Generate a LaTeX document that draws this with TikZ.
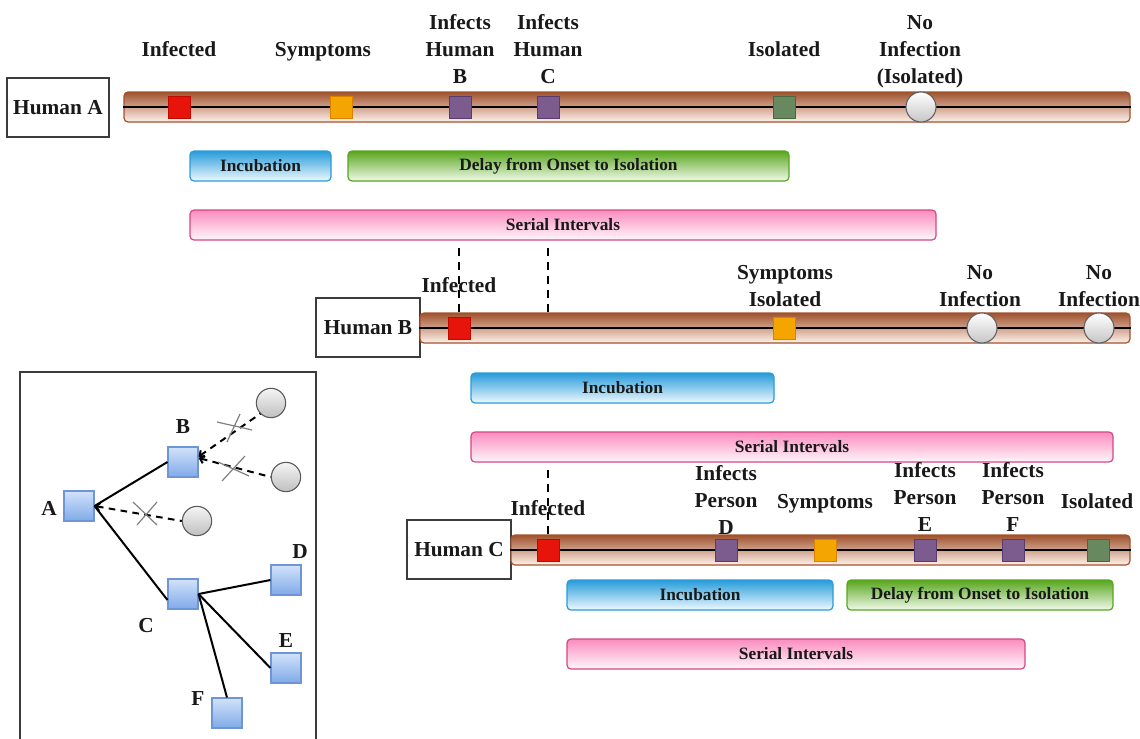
\documentclass[tikz,border=0pt]{standalone}
\usepackage{fontspec}
\setmainfont{Liberation Serif}
\usetikzlibrary{arrows.meta}

% palette
\definecolor{barbrown}{RGB}{160,82,45}
\definecolor{barlight}{RGB}{255,242,236}
\definecolor{evred}{RGB}{230,20,10}
\definecolor{evredd}{RGB}{190,10,0}
\definecolor{evorange}{RGB}{245,165,0}
\definecolor{evoranged}{RGB}{215,130,0}
\definecolor{evpurple}{RGB}{124,92,142}
\definecolor{evpurpled}{RGB}{88,60,110}
\definecolor{evgreen}{RGB}{104,136,96}
\definecolor{evgreend}{RGB}{72,104,64}
\definecolor{incb}{RGB}{40,156,218}
\definecolor{incl}{RGB}{238,249,255}
\definecolor{dlyg}{RGB}{88,166,30}
\definecolor{dlyl}{RGB}{242,250,236}
\definecolor{serp}{RGB}{214,70,130}
\definecolor{sertop}{RGB}{250,140,190}
\definecolor{serl}{RGB}{255,246,250}
\definecolor{tsqtop}{RGB}{210,226,250}
\definecolor{tsqbot}{RGB}{128,170,232}
\definecolor{tsqd}{RGB}{110,150,215}
\definecolor{boxgray}{RGB}{60,60,60}
\definecolor{txt}{RGB}{25,25,25}

\begin{document}
\begin{tikzpicture}[x=0.75pt,y=-0.75pt,
  humanbox/.style={draw=boxgray, line width=1.1pt, fill=white, inner sep=0,
    minimum height=44.25pt, text=txt, font=\fontsize{16}{20}\selectfont\bfseries},
  timeline/.style={draw=barbrown, line width=0.9pt, rounded corners=3pt,
    top color=barbrown, bottom color=barlight, minimum height=22.5pt, inner sep=0},
  axisline/.style={line width=1.5pt, black},
  evsq/.style={minimum size=16.5pt, inner sep=0, line width=0.7pt},
  redev/.style={evsq, fill=evred, draw=evredd},
  orangeev/.style={evsq, fill=evorange, draw=evoranged},
  purpleev/.style={evsq, fill=evpurple, draw=evpurpled},
  greenev/.style={evsq, fill=evgreen, draw=evgreend},
  noinf/.style={circle, minimum size=22.5pt, inner sep=0, draw=gray!75!black,
    line width=0.8pt, top color=white, bottom color=gray!45},
  spanbar/.style={rounded corners=3pt, minimum height=22.5pt, inner sep=0,
    line width=0.9pt, text=txt, font=\fontsize{13}{15}\selectfont\bfseries},
  incub/.style={spanbar, draw=incb, top color=incb, bottom color=incl},
  delay/.style={spanbar, draw=dlyg, top color=dlyg, bottom color=dlyl},
  serial/.style={spanbar, draw=serp, top color=sertop, bottom color=serl},
  evlabel/.style={font=\fontsize{16}{20}\selectfont\bfseries, text=txt,
    align=center, anchor=base, inner sep=0},
  vdash/.style={line width=1.5pt, dash pattern=on 6pt off 4.5pt},
  tsq/.style={minimum size=22.5pt, inner sep=0, draw=tsqd, line width=0.8pt,
    top color=tsqtop, bottom color=tsqbot},
  tcirc/.style={circle, minimum size=22pt, inner sep=0, draw=gray!70!black,
    line width=0.8pt, top color=white!92!gray, bottom color=gray!50},
  tlink/.style={line width=1.5pt, black},
  tblocked/.style={line width=1.5pt, black, dash pattern=on 5pt off 4pt,
    >={Straight Barb[length=3pt,width=6pt]}, <-},
  xmark/.style={gray, line width=0.9pt},
  tletter/.style={font=\fontsize{16}{20}\selectfont\bfseries, text=txt, inner sep=0}
]
\useasboundingbox (0,0) rectangle (1140,739);

% ---------------- Human A ----------------
\node[humanbox, minimum width=76.5pt] (hA) at (58,107.5) {Human A};
\node[timeline, minimum width=754.5pt] (tlA) at (627,107) {};
\draw[axisline] (tlA.west) -- (tlA.east);
\node[redev]    (aInf) at (179,107) {};
\node[orangeev] (aSym) at (341,107) {};
\node[purpleev] (aIB)  at (460,107) {};
\node[purpleev] (aIC)  at (548,107) {};
\node[greenev]  (aIso) at (784,107) {};
\node[noinf]    (aNo)  at (921,107) {};

% labels: the anchor sits on the baseline of the last line
\node[evlabel] (laInf) at (179,56) {Infected};
\node[evlabel] (laSym) at (323,56) {Symptoms};
\node[evlabel] (laIB)  at (460,83) {Infects\\Human\\B};
\node[evlabel] (laIC)  at (548,83) {Infects\\Human\\C};
\node[evlabel] (laIso) at (784,56) {Isolated};
\node[evlabel] (laNo)  at (920,83) {No\\Infection\\(Isolated)};

\node[incub, minimum width=105.75pt] (aInc) at (260.5,166) {Incubation};
\node[delay, minimum width=330.75pt] (aDly) at (568.5,166) {Delay from Onset to Isolation};
\node[serial, minimum width=559.5pt] (aSer) at (563,225) {Serial Intervals};

% ---------------- Human B ----------------
\node[humanbox, minimum width=78pt] (hB) at (368,327.5) {Human B};
\node[timeline, minimum width=532.5pt] (tlB) at (775,328) {};
\draw[axisline] (tlB.west) -- (tlB.east);
\node[redev]    (bInf) at (459,328) {};
\node[orangeev] (bSym) at (784,328) {};
\node[noinf]    (bNo1) at (982,328) {};
\node[noinf]    (bNo2) at (1099,328) {};

\node[evlabel] (lbInf) at (459,292) {Infected};
\node[evlabel] (lbSym) at (785,306) {Symptoms\\Isolated};
\node[evlabel] (lbNo1) at (980,306) {No\\Infection};
\node[evlabel] (lbNo2) at (1099,306) {No\\Infection};

\node[incub, minimum width=227.25pt] (bInc) at (622.5,388) {Incubation};
\node[serial, minimum width=481.5pt] (bSer) at (792,447) {Serial Intervals};

% infections passed from A to B and C
\coordinate (dB0) at (459,248);
\coordinate (dC0) at (548,248);
\coordinate (dC1) at (548,312);
\draw[vdash] (dB0) -- (bInf.north);
\draw[vdash] (dC0) -- (dC1);

% ---------------- Human C ----------------
\node[humanbox, minimum width=78pt] (hC) at (459,549.5) {Human C};
\node[timeline, minimum width=464.25pt] (tlC) at (820.5,550) {};
\draw[axisline] (tlC.west) -- (tlC.east);
\node[redev]    (cInf) at (548,550) {};
\node[purpleev] (cID)  at (726,550) {};
\node[orangeev] (cSym) at (825,550) {};
\node[purpleev] (cIE)  at (925,550) {};
\node[purpleev] (cIF)  at (1013,550) {};
\node[greenev]  (cIso) at (1098,550) {};

\node[evlabel] (lcInf) at (548,515) {Infected};
\node[evlabel] (lcID)  at (726,534) {Infects\\Person\\D};
\node[evlabel] (lcSym) at (825,508) {Symptoms};
\node[evlabel] (lcIE)  at (925,531) {Infects\\Person\\E};
\node[evlabel] (lcIF)  at (1013,531) {Infects\\Person\\F};
\node[evlabel] (lcIso) at (1097,508) {Isolated};

\node[incub, minimum width=199.5pt] (cInc) at (700,595) {Incubation};
\node[delay, minimum width=199.5pt] (cDly) at (980,595) {Delay from Onset to Isolation};
\node[serial, minimum width=343.5pt] (cSer) at (796,654) {Serial Intervals};

\coordinate (dCC0) at (548,470);
\draw[vdash] (dCC0) -- (cInf.north);

% ---------------- transmission tree ----------------
\node[draw=boxgray, line width=1.1pt, minimum width=222pt, minimum height=283.5pt,
  inner sep=0] (tree) at (168,561) {};

\node[tsq] (tA) at (79,506) {};
\node[tsq] (tB) at (183,462) {};
\node[tsq] (tC) at (183,594) {};
\node[tsq] (tD) at (286,580) {};
\node[tsq] (tE) at (286,668) {};
\node[tsq] (tF) at (227,713) {};
\node[tcirc] (n1) at (271,403) {};
\node[tcirc] (n2) at (286,477) {};
\node[tcirc] (n3) at (197,521) {};

\node[tletter] at (49,508) {A};
\node[tletter] at (183,427) {B};
\node[tletter] at (146,626) {C};
\node[tletter] at (300,552) {D};
\node[tletter] at (286,641) {E};
\node[tletter] at (198,699) {F};

\draw[tlink] (tA.east) -- (tB.west);
\draw[tlink] (tA.east) -- ([yshift=-4.5pt]tC.west);
\draw[tlink] (tC.east) -- (tD.west);
\draw[tlink] (tC.east) -- (tE.west);
\draw[tlink] (tC.east) -- (tF.north);

\draw[tblocked] (tA.east) -- (n3.west);
\draw[tblocked] ([yshift=4pt]tB.east) -- (n1.225);
\draw[tblocked] ([yshift=3pt]tB.east) -- (n2.west);

% crosses on the blocked transmissions
\draw[xmark] (133,502) -- (157,525) (157,502) -- (137,525);
\draw[xmark] (217,422) -- (252,430) (240,414) -- (227,442);
\draw[xmark] (218,462) -- (249,476) (245,456) -- (222,481);
\end{tikzpicture}
\end{document}
